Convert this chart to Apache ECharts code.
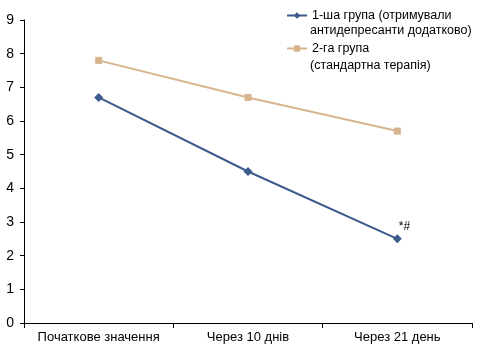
<!DOCTYPE html>
<html>
<head>
<meta charset="utf-8">
<script src="https://cdn.jsdelivr.net/npm/echarts@6/dist/echarts.min.js"></script>
<style>
  html, body { margin: 0; padding: 0; background: #fff; }
  #main { width: 478px; height: 354px; }
</style>
</head>
<body>
<div id="main"></div>
<script>
// категорії та значення
var categories = ['Початкове значення', 'Через 10 днів', 'Через 21 день'];
var group1 = [6.7, 4.5, 2.5];
var group2 = [7.8, 6.7, 5.7];
var name1 = '1-ша група (отримували';
var name1b = 'антидепресанти додатково)';
var name2 = '2-га група';
var name2b = '(стандартна терапія)';

var font = '"Liberation Sans", Arial, sans-serif';

var chart = echarts.init(document.getElementById('main'));

// позначка *# лише біля останньої точки
var g1Data = group1.map(function (v, i) {
    if (i == group1.length - 1) {
        return {
            value: v,
            label: {
                show: true, formatter: '*#', position: 'right',
                offset: [-8, -12], color: '#000', fontSize: 12, fontFamily: font
            }
        };
    }
    return v;
});

var option = {
    animation: false,
    grid: { left: 24, right: 6, top: 20, bottom: 31 },
    legend: {
        orient: 'vertical',
        left: 281,
        top: 4,
        itemWidth: 20,
        itemHeight: 8,
        itemGap: 20,
        textStyle: { fontSize: 12.5, fontFamily: font, color: '#000' },
        data: [name1, name2]
    },
    // другі рядки підписів легенди
    graphic: [
        { type: 'text', left: 310, top: 24, style: { text: name1b, fontSize: 12.5, fontFamily: font, fill: '#000' } },
        { type: 'text', left: 310, top: 59, style: { text: name2b, fontSize: 12.5, fontFamily: font, fill: '#000' } }
    ],
    xAxis: {
        type: 'category',
        data: categories,
        boundaryGap: true,
        axisLine: { lineStyle: { color: '#000', width: 1 } },
        axisTick: { show: true, alignWithLabel: false, length: 5, lineStyle: { color: '#000' } },
        axisLabel: { interval: 0, color: '#000', fontSize: 13, fontFamily: font, margin: 8 },
        splitLine: { show: false }
    },
    yAxis: {
        type: 'value',
        min: 0, max: 9, interval: 1,
        axisLine: { show: true, lineStyle: { color: '#000', width: 1 } },
        axisTick: { show: true, length: 4, lineStyle: { color: '#000' } },
        axisLabel: { color: '#000', fontSize: 14, fontFamily: font, margin: 10 },
        splitLine: { show: false }
    },
    series: [{
        name: name1,
        type: 'line',
        data: g1Data,
        symbol: 'diamond',
        symbolSize: 9,
        lineStyle: { color: '#3D5A8C', width: 2 },
        itemStyle: { color: '#3D5A8C' }
    }, {
        name: name2,
        type: 'line',
        data: group2,
        symbol: 'rect',
        symbolSize: 7,
        lineStyle: { color: '#D8B48E', width: 2 },
        itemStyle: { color: '#D8B48E' }
    }]
};
chart.setOption(option);
</script>
</body>
</html>
